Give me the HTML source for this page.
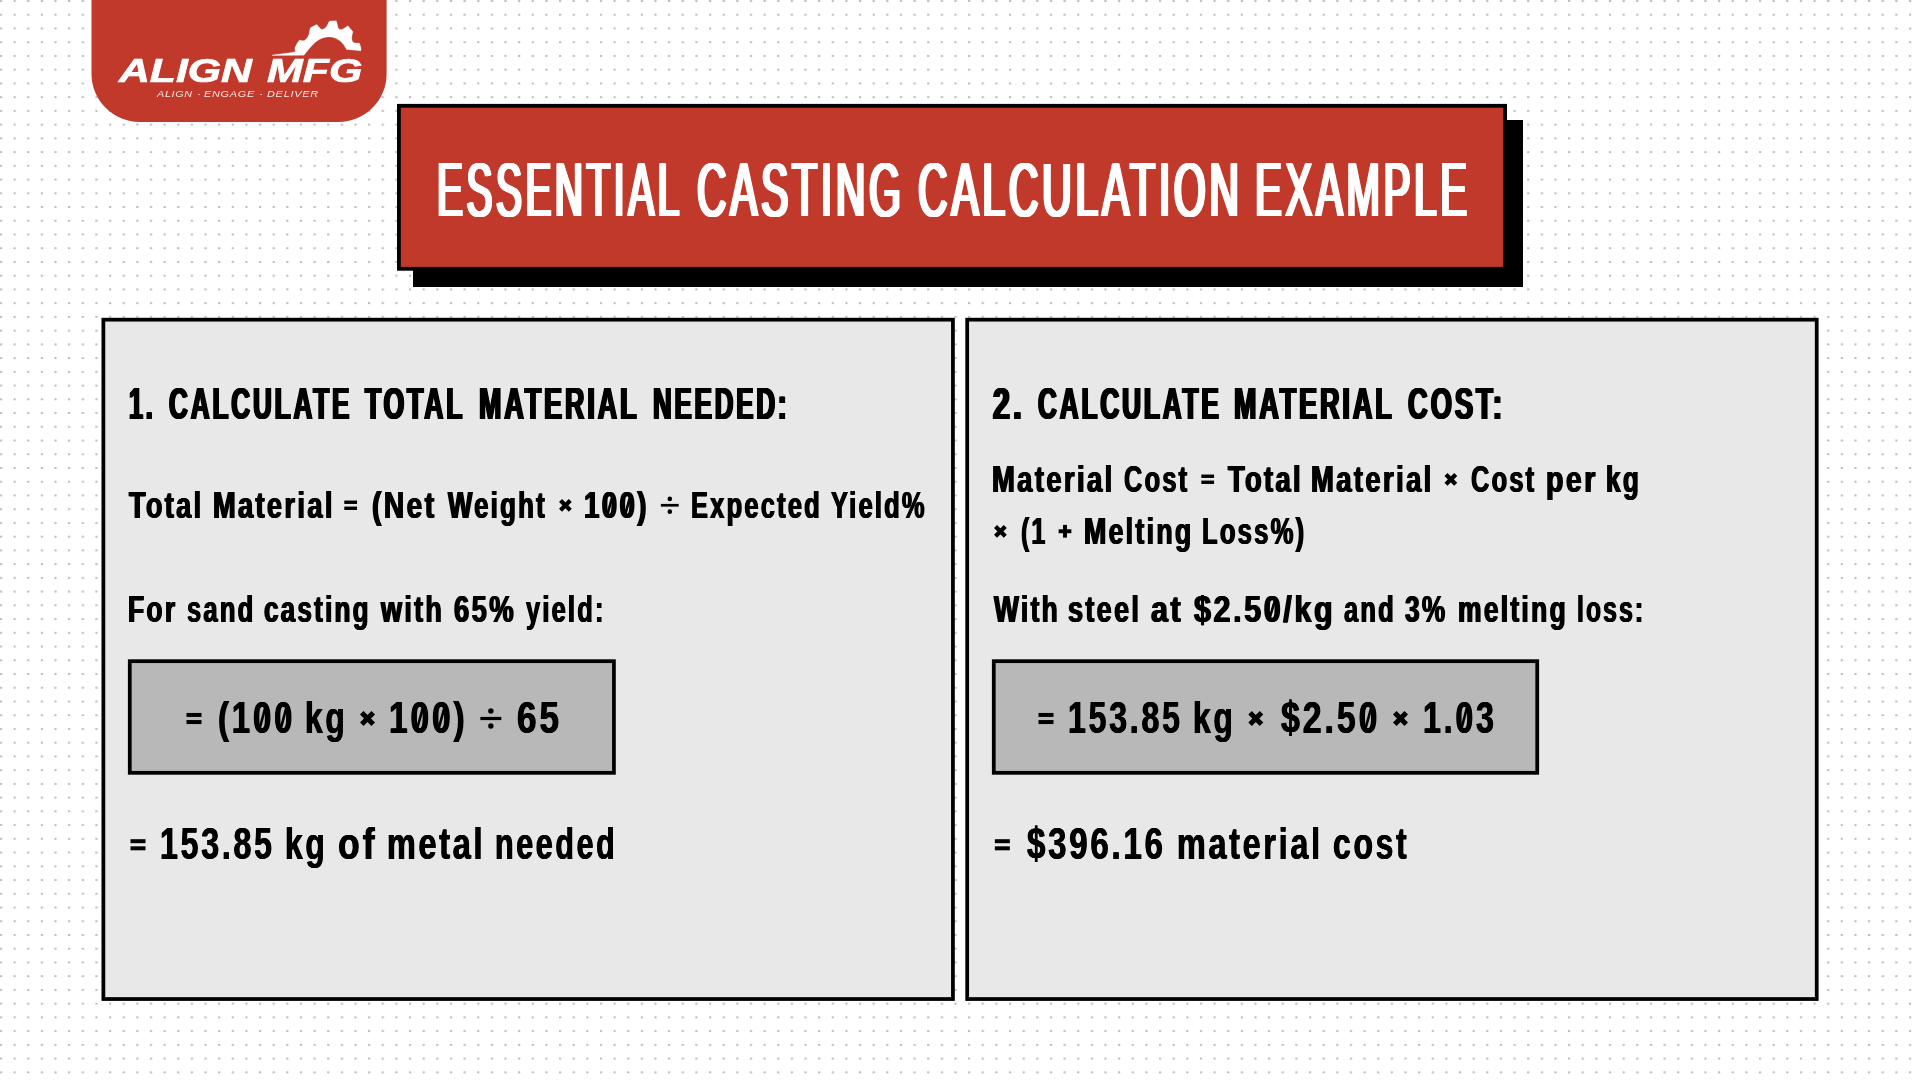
<!DOCTYPE html>
<html><head><meta charset="utf-8"><title>Essential Casting Calculation Example</title>
<style>
html,body{margin:0;padding:0;}
body{width:1920px;height:1080px;position:relative;overflow:hidden;background:#fff;font-family:"Liberation Sans",sans-serif;}
#bg{position:absolute;left:0;top:0;width:1920px;height:1080px;}
#txt{position:absolute;left:0;top:0;width:1920px;height:1080px;will-change:transform;}
.t{position:absolute;white-space:nowrap;line-height:1;transform-origin:0 0;display:block;}
.t.op{color:transparent !important;text-shadow:none !important;}
.t.lgt{-webkit-text-stroke:0.7px #fff;}
</style></head>
<body>
<svg id="bg" width="1920" height="1080">
<defs><pattern id="dots" x="-0.1" y="0" width="13.636" height="13.735" patternUnits="userSpaceOnUse"><rect x="0" y="0.05" width="2.2" height="1.95" fill="#bcbcbc"/></pattern></defs>
<rect width="1920" height="1080" fill="url(#dots)"/>
<path d="M91.5,0 H386.6 V73.9 A48,48 0 0 1 338.6,121.9 H139.5 A48,48 0 0 1 91.5,73.9 Z" fill="#c0392b"/>
<polygon points="272.20,55.10 290.00,52.71 295.42,51.67 294.79,47.92 297.08,43.33 299.58,40.00 302.50,40.83 304.58,40.42 307.50,37.50 309.17,33.75 310.00,28.75 310.83,27.50 316.67,24.38 318.75,26.67 320.42,28.75 322.50,29.38 325.00,28.33 327.08,25.83 328.75,22.08 330.00,21.04 336.25,20.83 337.08,23.33 337.92,27.50 339.58,29.38 342.08,29.38 344.58,27.92 347.92,25.83 352.92,31.67 352.08,35.00 351.67,38.75 352.50,41.67 354.58,42.92 359.58,43.33 360.83,47.50 361.04,50.83 346.67,49.38 345.42,47.50 343.33,44.17 340.00,40.83 335.83,38.33 331.67,37.08 327.50,36.88 323.33,37.71 319.17,39.58 315.00,42.50 310.83,46.67 307.50,50.83 304.58,54.58 303.75,55.21 272.20,55.50" fill="#fff" stroke="#fff" stroke-width="0.3" stroke-linejoin="round"/>
<rect x="413" y="120" width="1110" height="167" fill="#000"/>
<rect x="397" y="103.9" width="1110.00" height="166.80" fill="#000"/><rect x="400.80" y="107.70" width="1102.40" height="159.20" fill="#c0392b"/>
<rect x="101.5" y="317.8" width="853.30" height="683.10" fill="#000"/><rect x="105.25" y="321.55" width="845.80" height="675.60" fill="#e8e8e8"/>
<rect x="965.3" y="317.8" width="853.30" height="683.10" fill="#000"/><rect x="969.05" y="321.55" width="845.80" height="675.60" fill="#e8e8e8"/>
<rect x="127.9" y="659.3" width="487.90" height="115.40" fill="#000"/><rect x="131.65" y="663.05" width="480.40" height="107.90" fill="#b8b8b8"/>
<rect x="991.9" y="659.3" width="547.20" height="115.40" fill="#000"/><rect x="995.65" y="663.05" width="539.70" height="107.90" fill="#b8b8b8"/>
<g fill="#000">
<rect x="344.28" y="500.54" width="12.75" height="3.40"/><rect x="344.28" y="506.57" width="12.75" height="3.40"/>
<path d="M560.53,500.38 L570.27,510.13 M560.53,510.13 L570.27,500.38" stroke="#000" stroke-width="4.25" fill="none"/>
<rect x="660.88" y="503.90" width="17.84" height="2.72"/><circle cx="669.80" cy="498.88" r="2.29"/><circle cx="669.80" cy="511.63" r="2.29"/>
<rect x="186.50" y="712.95" width="15.00" height="4.00"/><rect x="186.50" y="720.05" width="15.00" height="4.00"/>
<path d="M361.77,712.77 L373.23,724.23 M361.77,724.23 L373.23,712.77" stroke="#000" stroke-width="5.00" fill="none"/>
<rect x="480.35" y="716.90" width="21.00" height="3.20"/><circle cx="490.85" cy="711.00" r="2.70"/><circle cx="490.85" cy="726.00" r="2.70"/>
<rect x="130.50" y="839.20" width="15.00" height="4.00"/><rect x="130.50" y="846.30" width="15.00" height="4.00"/>
<rect x="1201.33" y="474.54" width="12.75" height="3.40"/><rect x="1201.33" y="480.57" width="12.75" height="3.40"/>
<path d="M1445.98,474.38 L1455.72,484.13 M1445.98,484.13 L1455.72,474.38" stroke="#000" stroke-width="4.25" fill="none"/>
<path d="M995.53,526.38 L1005.27,536.13 M995.53,536.13 L1005.27,526.38" stroke="#000" stroke-width="4.25" fill="none"/>
<rect x="1058.63" y="529.30" width="12.75" height="3.91"/><rect x="1063.05" y="524.88" width="3.91" height="12.75"/>
<rect x="1038.50" y="712.95" width="15.00" height="4.00"/><rect x="1038.50" y="720.05" width="15.00" height="4.00"/>
<path d="M1250.07,712.77 L1261.53,724.23 M1250.07,724.23 L1261.53,712.77" stroke="#000" stroke-width="5.00" fill="none"/>
<path d="M1394.77,712.77 L1406.23,724.23 M1394.77,724.23 L1406.23,712.77" stroke="#000" stroke-width="5.00" fill="none"/>
<rect x="994.85" y="839.20" width="15.00" height="4.00"/><rect x="994.85" y="846.30" width="15.00" height="4.00"/>
</g>
<g stroke="#000" stroke-width="2.6" stroke-linecap="butt">
<line x1="607.73" y1="513.59" x2="612.34" y2="496.50"/>
<line x1="625.49" y1="513.59" x2="630.11" y2="496.50"/>
<line x1="259.73" y1="728.26" x2="265.22" y2="707.93"/>
<line x1="280.86" y1="728.26" x2="286.35" y2="707.93"/>
<line x1="417.26" y1="728.26" x2="422.85" y2="707.93"/>
<line x1="438.77" y1="728.26" x2="444.36" y2="707.93"/>
<line x1="1269.80" y1="617.59" x2="1274.88" y2="600.50"/>
<line x1="1365.55" y1="728.26" x2="1371.20" y2="707.93"/>
<line x1="1461.54" y1="728.26" x2="1466.91" y2="707.93"/>
</g>
</svg>
<div id="txt">
<span class="t title" style="left:437.10px;top:151.67px;font-size:76px;font-weight:400;color:#fff;letter-spacing:7.00px;text-shadow:1.00px 0 0 #fff,-1.00px 0 0 #fff,2.00px 0 0 #fff,-2.00px 0 0 #fff,3.00px 0 0 #fff,-3.00px 0 0 #fff;transform:scaleX(0.5109)">ESSENTIAL</span>
<span class="t title" style="left:697.00px;top:151.67px;font-size:76px;font-weight:400;color:#fff;letter-spacing:7.00px;text-shadow:1.00px 0 0 #fff,-1.00px 0 0 #fff,2.00px 0 0 #fff,-2.00px 0 0 #fff,3.00px 0 0 #fff,-3.00px 0 0 #fff;transform:scaleX(0.5364)">CASTING</span>
<span class="t title" style="left:917.50px;top:151.67px;font-size:76px;font-weight:400;color:#fff;letter-spacing:7.00px;text-shadow:1.00px 0 0 #fff,-1.00px 0 0 #fff,2.00px 0 0 #fff,-2.00px 0 0 #fff,3.00px 0 0 #fff,-3.00px 0 0 #fff;transform:scaleX(0.5382)">CALCULATION</span>
<span class="t title" style="left:1255.45px;top:151.67px;font-size:76px;font-weight:400;color:#fff;letter-spacing:7.00px;text-shadow:1.00px 0 0 #fff,-1.00px 0 0 #fff,2.00px 0 0 #fff,-2.00px 0 0 #fff,3.00px 0 0 #fff,-3.00px 0 0 #fff;transform:scaleX(0.5288)">EXAMPLE</span>
<span class="t lgt" style="left:118.74px;top:53.87px;font-size:33px;font-weight:700;color:#fff;font-style:italic;transform:scaleX(1.2953)">ALIGN</span>
<span class="t lgt" style="left:267.13px;top:53.87px;font-size:33px;font-weight:700;color:#fff;font-style:italic;transform:scaleX(1.2994)">MFG</span>
<span class="t" style="left:157.37px;top:89.65px;font-size:8.8px;font-weight:400;color:#fbe9e7;font-style:italic;letter-spacing:0.60px;transform:scaleX(1.2184)">ALIGN</span>
<span class="t" style="left:196.70px;top:89.65px;font-size:8.8px;font-weight:400;color:#fbe9e7;font-style:italic;letter-spacing:0.60px;transform:scaleX(1.4545)">·</span>
<span class="t" style="left:204.23px;top:89.65px;font-size:8.8px;font-weight:400;color:#fbe9e7;font-style:italic;letter-spacing:0.60px;transform:scaleX(1.2335)">ENGAGE</span>
<span class="t" style="left:259.40px;top:89.65px;font-size:8.8px;font-weight:400;color:#fbe9e7;font-style:italic;letter-spacing:0.60px;transform:scaleX(1.4545)">·</span>
<span class="t" style="left:266.93px;top:89.65px;font-size:8.8px;font-weight:400;color:#fbe9e7;font-style:italic;letter-spacing:0.60px;transform:scaleX(1.2405)">DELIVER</span>
<span class="t" style="left:128.63px;top:380.91px;font-size:45px;font-weight:700;color:#000;letter-spacing:5.00px;text-shadow:0.90px 0 0 #000,-0.90px 0 0 #000,1.80px 0 0 #000,-1.80px 0 0 #000;transform:scaleX(0.5583)">1.</span>
<span class="t" style="left:168.73px;top:380.91px;font-size:45px;font-weight:700;color:#000;letter-spacing:5.00px;text-shadow:0.90px 0 0 #000,-0.90px 0 0 #000,1.80px 0 0 #000,-1.80px 0 0 #000;transform:scaleX(0.5790)">CALCULATE</span>
<span class="t" style="left:365.46px;top:380.91px;font-size:45px;font-weight:700;color:#000;letter-spacing:5.00px;text-shadow:0.90px 0 0 #000,-0.90px 0 0 #000,1.80px 0 0 #000,-1.80px 0 0 #000;transform:scaleX(0.5876)">TOTAL</span>
<span class="t" style="left:478.90px;top:380.91px;font-size:45px;font-weight:700;color:#000;letter-spacing:5.00px;text-shadow:0.90px 0 0 #000,-0.90px 0 0 #000,1.80px 0 0 #000,-1.80px 0 0 #000;transform:scaleX(0.5963)">MATERIAL</span>
<span class="t" style="left:653.42px;top:380.91px;font-size:45px;font-weight:700;color:#000;letter-spacing:5.00px;text-shadow:0.90px 0 0 #000,-0.90px 0 0 #000,1.80px 0 0 #000,-1.80px 0 0 #000;transform:scaleX(0.5741)">NEEDED:</span>
<span class="t" style="left:129.16px;top:486.68px;font-size:37px;font-weight:700;color:#000;letter-spacing:3.20px;text-shadow:0.90px 0 0 #000,-0.90px 0 0 #000;transform:scaleX(0.7323)">Total</span>
<span class="t" style="left:212.96px;top:486.68px;font-size:37px;font-weight:700;color:#000;letter-spacing:3.20px;text-shadow:0.90px 0 0 #000,-0.90px 0 0 #000;transform:scaleX(0.7359)">Material</span>
<span class="t op" style="left:343.22px;top:486.68px;font-size:37px;font-weight:700;color:#000;letter-spacing:3.20px;text-shadow:0.90px 0 0 #000,-0.90px 0 0 #000;transform:scaleX(0.6945)">=</span>
<span class="t" style="left:372.16px;top:486.68px;font-size:37px;font-weight:700;color:#000;letter-spacing:3.20px;text-shadow:0.90px 0 0 #000,-0.90px 0 0 #000;transform:scaleX(0.7614)">(Net</span>
<span class="t" style="left:447.73px;top:486.68px;font-size:37px;font-weight:700;color:#000;letter-spacing:3.20px;text-shadow:0.90px 0 0 #000,-0.90px 0 0 #000;transform:scaleX(0.6980)">Weight</span>
<span class="t op" style="left:558.84px;top:486.68px;font-size:37px;font-weight:700;color:#000;letter-spacing:3.20px;text-shadow:0.90px 0 0 #000,-0.90px 0 0 #000;transform:scaleX(0.6131)">×</span>
<span class="t" style="left:584.45px;top:486.68px;font-size:37px;font-weight:700;color:#000;letter-spacing:3.20px;text-shadow:0.90px 0 0 #000,-0.90px 0 0 #000;transform:scaleX(0.7469)">100)</span>
<span class="t op" style="left:661.27px;top:486.68px;font-size:37px;font-weight:700;color:#000;letter-spacing:3.20px;text-shadow:0.90px 0 0 #000,-0.90px 0 0 #000;transform:scaleX(0.8430)">÷</span>
<span class="t" style="left:691.33px;top:486.68px;font-size:37px;font-weight:700;color:#000;letter-spacing:3.20px;text-shadow:0.90px 0 0 #000,-0.90px 0 0 #000;transform:scaleX(0.6890)">Expected</span>
<span class="t" style="left:831.22px;top:486.68px;font-size:37px;font-weight:700;color:#000;letter-spacing:3.20px;text-shadow:0.90px 0 0 #000,-0.90px 0 0 #000;transform:scaleX(0.6879)">Yield%</span>
<span class="t" style="left:128.29px;top:590.68px;font-size:37px;font-weight:700;color:#000;letter-spacing:3.20px;text-shadow:0.90px 0 0 #000,-0.90px 0 0 #000;transform:scaleX(0.7142)">For</span>
<span class="t" style="left:186.52px;top:590.68px;font-size:37px;font-weight:700;color:#000;letter-spacing:3.20px;text-shadow:0.90px 0 0 #000,-0.90px 0 0 #000;transform:scaleX(0.6898)">sand</span>
<span class="t" style="left:263.82px;top:590.68px;font-size:37px;font-weight:700;color:#000;letter-spacing:3.20px;text-shadow:0.90px 0 0 #000,-0.90px 0 0 #000;transform:scaleX(0.7027)">casting</span>
<span class="t" style="left:381.08px;top:590.68px;font-size:37px;font-weight:700;color:#000;letter-spacing:3.20px;text-shadow:0.90px 0 0 #000,-0.90px 0 0 #000;transform:scaleX(0.7283)">with</span>
<span class="t" style="left:454.11px;top:590.68px;font-size:37px;font-weight:700;color:#000;letter-spacing:3.20px;text-shadow:0.90px 0 0 #000,-0.90px 0 0 #000;transform:scaleX(0.7409)">65%</span>
<span class="t" style="left:526.32px;top:590.68px;font-size:37px;font-weight:700;color:#000;letter-spacing:3.20px;text-shadow:0.90px 0 0 #000,-0.90px 0 0 #000;transform:scaleX(0.6878)">yield:</span>
<span class="t op" style="left:185.16px;top:696.25px;font-size:44px;font-weight:700;color:#000;letter-spacing:3.80px;text-shadow:0.60px 0 0 #000,-0.60px 0 0 #000;transform:scaleX(0.6949)">=</span>
<span class="t" style="left:218.21px;top:696.25px;font-size:44px;font-weight:700;color:#000;letter-spacing:3.80px;text-shadow:0.60px 0 0 #000,-0.60px 0 0 #000;transform:scaleX(0.7478)">(100</span>
<span class="t" style="left:305.15px;top:696.25px;font-size:44px;font-weight:700;color:#000;letter-spacing:3.80px;text-shadow:0.60px 0 0 #000,-0.60px 0 0 #000;transform:scaleX(0.7207)">kg</span>
<span class="t op" style="left:359.51px;top:696.25px;font-size:44px;font-weight:700;color:#000;letter-spacing:3.80px;text-shadow:0.60px 0 0 #000,-0.60px 0 0 #000;transform:scaleX(0.6279)">×</span>
<span class="t" style="left:389.06px;top:696.25px;font-size:44px;font-weight:700;color:#000;letter-spacing:3.80px;text-shadow:0.60px 0 0 #000,-0.60px 0 0 #000;transform:scaleX(0.7610)">100)</span>
<span class="t op" style="left:479.92px;top:696.25px;font-size:44px;font-weight:700;color:#000;letter-spacing:3.80px;text-shadow:0.60px 0 0 #000,-0.60px 0 0 #000;transform:scaleX(0.9084)">÷</span>
<span class="t" style="left:516.68px;top:696.25px;font-size:44px;font-weight:700;color:#000;letter-spacing:3.80px;text-shadow:0.60px 0 0 #000,-0.60px 0 0 #000;transform:scaleX(0.7966)">65</span>
<span class="t op" style="left:129.48px;top:822.08px;font-size:44.5px;font-weight:700;color:#000;letter-spacing:3.80px;text-shadow:0.60px 0 0 #000,-0.60px 0 0 #000;transform:scaleX(0.6627)">=</span>
<span class="t" style="left:160.13px;top:822.08px;font-size:44.5px;font-weight:700;color:#000;letter-spacing:3.80px;text-shadow:0.60px 0 0 #000,-0.60px 0 0 #000;transform:scaleX(0.7217)">153.85</span>
<span class="t" style="left:285.14px;top:822.08px;font-size:44.5px;font-weight:700;color:#000;letter-spacing:3.80px;text-shadow:0.60px 0 0 #000,-0.60px 0 0 #000;transform:scaleX(0.7134)">kg</span>
<span class="t" style="left:337.67px;top:822.08px;font-size:44.5px;font-weight:700;color:#000;letter-spacing:3.80px;text-shadow:0.60px 0 0 #000,-0.60px 0 0 #000;transform:scaleX(0.7963)">of</span>
<span class="t" style="left:386.72px;top:822.08px;font-size:44.5px;font-weight:700;color:#000;letter-spacing:3.80px;text-shadow:0.60px 0 0 #000,-0.60px 0 0 #000;transform:scaleX(0.7262)">metal</span>
<span class="t" style="left:494.51px;top:822.08px;font-size:44.5px;font-weight:700;color:#000;letter-spacing:3.80px;text-shadow:0.60px 0 0 #000,-0.60px 0 0 #000;transform:scaleX(0.6850)">needed</span>
<span class="t" style="left:992.96px;top:380.91px;font-size:45px;font-weight:700;color:#000;letter-spacing:5.00px;text-shadow:0.90px 0 0 #000,-0.90px 0 0 #000,1.80px 0 0 #000,-1.80px 0 0 #000;transform:scaleX(0.6728)">2.</span>
<span class="t" style="left:1037.53px;top:380.91px;font-size:45px;font-weight:700;color:#000;letter-spacing:5.00px;text-shadow:0.90px 0 0 #000,-0.90px 0 0 #000,1.80px 0 0 #000,-1.80px 0 0 #000;transform:scaleX(0.5802)">CALCULATE</span>
<span class="t" style="left:1234.40px;top:380.91px;font-size:45px;font-weight:700;color:#000;letter-spacing:5.00px;text-shadow:0.90px 0 0 #000,-0.90px 0 0 #000,1.80px 0 0 #000,-1.80px 0 0 #000;transform:scaleX(0.5970)">MATERIAL</span>
<span class="t" style="left:1407.94px;top:380.91px;font-size:45px;font-weight:700;color:#000;letter-spacing:5.00px;text-shadow:0.90px 0 0 #000,-0.90px 0 0 #000,1.80px 0 0 #000,-1.80px 0 0 #000;transform:scaleX(0.6060)">COST:</span>
<span class="t" style="left:992.45px;top:460.68px;font-size:37px;font-weight:700;color:#000;letter-spacing:3.20px;text-shadow:0.90px 0 0 #000,-0.90px 0 0 #000;transform:scaleX(0.7409)">Material</span>
<span class="t" style="left:1124.32px;top:460.68px;font-size:37px;font-weight:700;color:#000;letter-spacing:3.20px;text-shadow:0.90px 0 0 #000,-0.90px 0 0 #000;transform:scaleX(0.6870)">Cost</span>
<span class="t op" style="left:1200.43px;top:460.68px;font-size:37px;font-weight:700;color:#000;letter-spacing:3.20px;text-shadow:0.90px 0 0 #000,-0.90px 0 0 #000;transform:scaleX(0.6801)">=</span>
<span class="t" style="left:1227.86px;top:460.68px;font-size:37px;font-weight:700;color:#000;letter-spacing:3.20px;text-shadow:0.90px 0 0 #000,-0.90px 0 0 #000;transform:scaleX(0.7374)">Total</span>
<span class="t" style="left:1311.15px;top:460.68px;font-size:37px;font-weight:700;color:#000;letter-spacing:3.20px;text-shadow:0.90px 0 0 #000,-0.90px 0 0 #000;transform:scaleX(0.7415)">Material</span>
<span class="t op" style="left:1444.55px;top:460.68px;font-size:37px;font-weight:700;color:#000;letter-spacing:3.20px;text-shadow:0.90px 0 0 #000,-0.90px 0 0 #000;transform:scaleX(0.5891)">×</span>
<span class="t" style="left:1471.42px;top:460.68px;font-size:37px;font-weight:700;color:#000;letter-spacing:3.20px;text-shadow:0.90px 0 0 #000,-0.90px 0 0 #000;transform:scaleX(0.6870)">Cost</span>
<span class="t" style="left:1545.61px;top:460.68px;font-size:37px;font-weight:700;color:#000;letter-spacing:3.20px;text-shadow:0.90px 0 0 #000,-0.90px 0 0 #000;transform:scaleX(0.7706)">per</span>
<span class="t" style="left:1605.90px;top:460.68px;font-size:37px;font-weight:700;color:#000;letter-spacing:3.20px;text-shadow:0.90px 0 0 #000,-0.90px 0 0 #000;transform:scaleX(0.7081)">kg</span>
<span class="t op" style="left:994.05px;top:512.68px;font-size:37px;font-weight:700;color:#000;letter-spacing:3.20px;text-shadow:0.90px 0 0 #000,-0.90px 0 0 #000;transform:scaleX(0.5939)">×</span>
<span class="t" style="left:1021.24px;top:512.68px;font-size:37px;font-weight:700;color:#000;letter-spacing:3.20px;text-shadow:0.90px 0 0 #000,-0.90px 0 0 #000;transform:scaleX(0.6725)">(1</span>
<span class="t op" style="left:1058.44px;top:512.68px;font-size:37px;font-weight:700;color:#000;letter-spacing:3.20px;text-shadow:0.90px 0 0 #000,-0.90px 0 0 #000;transform:scaleX(0.6131)">+</span>
<span class="t" style="left:1084.48px;top:512.68px;font-size:37px;font-weight:700;color:#000;letter-spacing:3.20px;text-shadow:0.90px 0 0 #000,-0.90px 0 0 #000;transform:scaleX(0.7215)">Melting</span>
<span class="t" style="left:1202.12px;top:512.68px;font-size:37px;font-weight:700;color:#000;letter-spacing:3.20px;text-shadow:0.90px 0 0 #000,-0.90px 0 0 #000;transform:scaleX(0.6924)">Loss%)</span>
<span class="t" style="left:994.14px;top:590.68px;font-size:37px;font-weight:700;color:#000;letter-spacing:3.20px;text-shadow:0.90px 0 0 #000,-0.90px 0 0 #000;transform:scaleX(0.7124)">With</span>
<span class="t" style="left:1068.31px;top:590.68px;font-size:37px;font-weight:700;color:#000;letter-spacing:3.20px;text-shadow:0.90px 0 0 #000,-0.90px 0 0 #000;transform:scaleX(0.7302)">steel</span>
<span class="t" style="left:1150.96px;top:590.68px;font-size:37px;font-weight:700;color:#000;letter-spacing:3.20px;text-shadow:0.90px 0 0 #000,-0.90px 0 0 #000;transform:scaleX(0.8212)">at</span>
<span class="t" style="left:1193.94px;top:590.68px;font-size:37px;font-weight:700;color:#000;letter-spacing:3.20px;text-shadow:0.90px 0 0 #000,-0.90px 0 0 #000;transform:scaleX(0.8226)">$2.50/kg</span>
<span class="t" style="left:1343.92px;top:590.68px;font-size:37px;font-weight:700;color:#000;letter-spacing:3.20px;text-shadow:0.90px 0 0 #000,-0.90px 0 0 #000;transform:scaleX(0.6884)">and</span>
<span class="t" style="left:1405.23px;top:590.68px;font-size:37px;font-weight:700;color:#000;letter-spacing:3.20px;text-shadow:0.90px 0 0 #000,-0.90px 0 0 #000;transform:scaleX(0.7094)">3%</span>
<span class="t" style="left:1457.79px;top:590.68px;font-size:37px;font-weight:700;color:#000;letter-spacing:3.20px;text-shadow:0.90px 0 0 #000,-0.90px 0 0 #000;transform:scaleX(0.7141)">melting</span>
<span class="t" style="left:1576.56px;top:590.68px;font-size:37px;font-weight:700;color:#000;letter-spacing:3.20px;text-shadow:0.90px 0 0 #000,-0.90px 0 0 #000;transform:scaleX(0.6665)">loss:</span>
<span class="t op" style="left:1037.16px;top:696.25px;font-size:44px;font-weight:700;color:#000;letter-spacing:3.80px;text-shadow:0.60px 0 0 #000,-0.60px 0 0 #000;transform:scaleX(0.6949)">=</span>
<span class="t" style="left:1068.43px;top:696.25px;font-size:44px;font-weight:700;color:#000;letter-spacing:3.80px;text-shadow:0.60px 0 0 #000,-0.60px 0 0 #000;transform:scaleX(0.7288)">153.85</span>
<span class="t" style="left:1193.45px;top:696.25px;font-size:44px;font-weight:700;color:#000;letter-spacing:3.80px;text-shadow:0.60px 0 0 #000,-0.60px 0 0 #000;transform:scaleX(0.7227)">kg</span>
<span class="t op" style="left:1247.81px;top:696.25px;font-size:44px;font-weight:700;color:#000;letter-spacing:3.80px;text-shadow:0.60px 0 0 #000,-0.60px 0 0 #000;transform:scaleX(0.6279)">×</span>
<span class="t" style="left:1281.16px;top:696.25px;font-size:44px;font-weight:700;color:#000;letter-spacing:3.80px;text-shadow:0.60px 0 0 #000,-0.60px 0 0 #000;transform:scaleX(0.7697)">$2.50</span>
<span class="t op" style="left:1392.83px;top:696.25px;font-size:44px;font-weight:700;color:#000;letter-spacing:3.80px;text-shadow:0.60px 0 0 #000,-0.60px 0 0 #000;transform:scaleX(0.6028)">×</span>
<span class="t" style="left:1422.73px;top:696.25px;font-size:44px;font-weight:700;color:#000;letter-spacing:3.80px;text-shadow:0.60px 0 0 #000,-0.60px 0 0 #000;transform:scaleX(0.7310)">1.03</span>
<span class="t op" style="left:993.45px;top:822.08px;font-size:44.5px;font-weight:700;color:#000;letter-spacing:3.80px;text-shadow:0.60px 0 0 #000,-0.60px 0 0 #000;transform:scaleX(0.6916)">=</span>
<span class="t" style="left:1027.14px;top:822.08px;font-size:44.5px;font-weight:700;color:#000;letter-spacing:3.80px;text-shadow:0.60px 0 0 #000,-0.60px 0 0 #000;transform:scaleX(0.7401)">$396.16</span>
<span class="t" style="left:1176.72px;top:822.08px;font-size:44.5px;font-weight:700;color:#000;letter-spacing:3.80px;text-shadow:0.60px 0 0 #000,-0.60px 0 0 #000;transform:scaleX(0.7251)">material</span>
<span class="t" style="left:1332.73px;top:822.08px;font-size:44.5px;font-weight:700;color:#000;letter-spacing:3.80px;text-shadow:0.60px 0 0 #000,-0.60px 0 0 #000;transform:scaleX(0.7162)">cost</span>
</div>
</body></html>
